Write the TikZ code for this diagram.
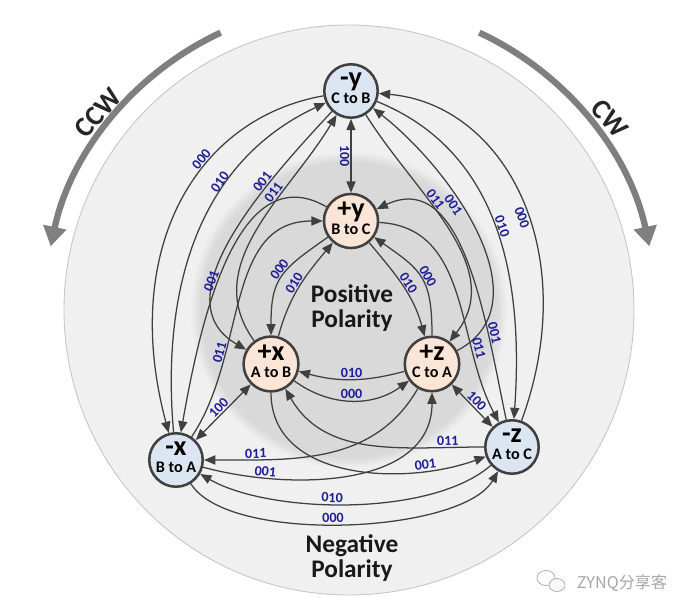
\documentclass[tikz,border=0pt]{standalone}
\usepackage{fontspec}
\setmainfont{Carlito}
\newfontfamily\cjkfont{Noto Sans CJK SC}
\usetikzlibrary{arrows.meta}
\definecolor{LineGray}{HTML}{404040}
\definecolor{MinusFill}{HTML}{DCE6F2}
\definecolor{PlusFill}{HTML}{FBE5D6}
\definecolor{CodeBlue}{HTML}{1E1E9A}
\definecolor{OuterDisk}{HTML}{F0F0F0}
\definecolor{OuterRim}{HTML}{C4C4C4}
\definecolor{InnerDisk}{HTML}{D9D9D9}
\definecolor{SpinGray}{HTML}{7F7F7F}
\definecolor{MarkGray}{HTML}{A6A6A6}
\tikzset{
    state_n/.style={circle, draw=LineGray, fill=MinusFill, line width=1.8pt, minimum size=38pt, inner sep=0pt, text depth=4pt, align=center, font=\bfseries\fontsize{11.5}{11.5}\selectfont},
    state_p/.style={state_n, fill=PlusFill},
    tr/.style={-{Triangle[length=8pt,width=6.5pt]}, line width=0.9pt, draw=LineGray},
    flip/.style={{Triangle[length=8pt,width=6.5pt]}-{Triangle[length=8pt,width=6.5pt]}, line width=0.9pt, draw=LineGray},
    code/.style={font=\bfseries\fontsize{10}{10}\selectfont, text=CodeBlue, inner sep=0.8pt},
    code_s/.style={code, sloped},
    spin/.style={-{Triangle[length=14pt,width=16pt]}, line width=4.5pt, draw=SpinGray},
    spinlbl/.style={font=\bfseries\fontsize{20}{20}\selectfont, text=black!85},
    polarity/.style={font=\bfseries\fontsize{18}{18}\selectfont, align=center, text=black!90},
}
\begin{document}
\begin{tikzpicture}[x=0.025cm, y=0.025cm]
\useasboundingbox (0,0) rectangle (692,616);

% polarity discs
\fill[OuterDisk, draw=OuterRim, line width=0.6pt] (349,306) circle[radius=285];
\foreach \rad/\mix in {158/12, 156/30, 154/50, 152/70, 150/88, 148/100}
    \fill[InnerDisk!\mix!OuterDisk] (349,306) circle[radius=\rad];

% rotation sense
\draw[spin] (350,306) ++(115:306) arc[start angle=115, end angle=168, radius=306];
\draw[spin] (350,306) ++(65:306) arc[start angle=65, end angle=12, radius=306];
\node[spinlbl, rotate=49] (ccw) at (98,503) {CCW};
\node[spinlbl, rotate=-49] (cw) at (610,497) {CW};

% states
\node[state_n] (ny) at (351,525) {{\fontsize{20}{20}\selectfont -y}\\C to B};
\node[state_p] (py) at (351,395) {{\fontsize{20}{20}\selectfont +y}\\B to C};
\node[state_p] (px) at (271,252) {{\fontsize{20}{20}\selectfont +x}\\A to B};
\node[state_p] (pz) at (432,252) {{\fontsize{20}{20}\selectfont +z}\\C to A};
\node[state_n] (nx) at (176,156) {{\fontsize{20}{20}\selectfont -x}\\B to A};
\node[state_n] (nz) at (512,169) {{\fontsize{20}{20}\selectfont -z}\\A to C};

% region names
\node[polarity] (posp) at (352,308) {Positive\\Polarity};
\node[polarity] (negp) at (352,58) {Negative\\Polarity};

% watermark
\draw[MarkGray, line width=0.5pt] (546,38) ellipse[x radius=9, y radius=7.5];
\draw[MarkGray, line width=0.5pt, fill=OuterDisk!40!white] (557,31) ellipse[x radius=8, y radius=6.5];
\node[font=\cjkfont\fontsize{11.5}{12}\selectfont, text=MarkGray, anchor=west] (mark) at (572,33) {ZYNQ分享客};

% negative ring
\draw[tr] (ny) to[out=190, in=105, out looseness=0.9, in looseness=1.3] node[code_s, pos=0.37, above] {000} (nx);
\draw[tr] (nx) to[out=95, in=205] node[code_s, pos=0.66, above] {010} (ny);
\draw[tr] (nz) to[out=70, in=-5, out looseness=1.3, in looseness=0.9] node[code_s, pos=0.45, below] {000} (ny);
\draw[tr] (ny) to[out=-22, in=86] node[code_s, pos=0.5, above] {010} (nz);
\draw[tr] (nx) to[out=-58, in=240, looseness=0.6] node[code_s, pos=0.47, above] {000} (nz);
\draw[tr] (nz) to[out=221, in=-30, looseness=0.7] node[code_s, pos=0.55, above] {010} (nx);

% positive ring
\draw[tr] (py) to[out=215, in=90, looseness=1.3] node[code_s, pos=0.45, above] {000} (px);
\draw[tr] (px) to[out=75, in=230] node[code_s, pos=0.5, above] {010} (py);
\draw[tr] (py) to[out=-50, in=105] node[code_s, pos=0.5, above] {010} (pz);
\draw[tr] (pz) to[out=90, in=-35, looseness=1.3] node[code_s, pos=0.47, above] {000} (py);
\draw[tr] (pz) to[out=195, in=-15] node[code_s, midway, above] {010} (px);
\draw[tr] (px) to[out=-36, in=216] node[code_s, midway, above] {000} (pz);

% across the polarities
\draw[tr] (ny) to[out=227, in=150] node[code_s, pos=0.3, above] {001} (px);
\draw[tr] (px) to[out=126, in=239] node[code_s, pos=0.65, above] {011} (ny);
\draw[tr] (pz) to[out=28, in=-38] node[code_s, pos=0.62, below] {001} (ny);
\draw[tr] (ny) to[out=-58, in=52] node[code_s, pos=0.38, above] {011} (pz);
\draw[tr] (py) to[out=150, in=80] node[code_s, pos=0.57, above] {001} (nx);
\draw[tr] (nx) to[out=56, in=180] node[code_s, pos=0.3, above] {011} (py);
\draw[tr] (nz) to[out=102, in=25] node[code_s, pos=0.27, above] {001} (py);
\draw[tr] (py) to[out=-3, in=118] node[code_s, pos=0.72, above] {011} (nz);
\draw[tr] (nz) to[out=180, in=-60] node[code_s, pos=0.15, above] {011} (px);
\draw[tr] (px) to[out=-90, in=200] node[code_s, pos=0.78, above] {001} (nz);
\draw[tr] (pz) to[out=240, in=0] node[code_s, pos=0.8, above] {011} (nx);
\draw[tr] (nx) to[out=-15, in=-90] node[code_s, pos=0.21, above] {001} (pz);

% same axis, polarity swap
\draw[flip] (ny) -- node[code, rotate=-90, below] {100} (py);
\draw[flip] (px) -- node[code_s, above] {100} (nx);
\draw[flip] (pz) -- node[code_s, above] {100} (nz);

\end{tikzpicture}
\end{document}
